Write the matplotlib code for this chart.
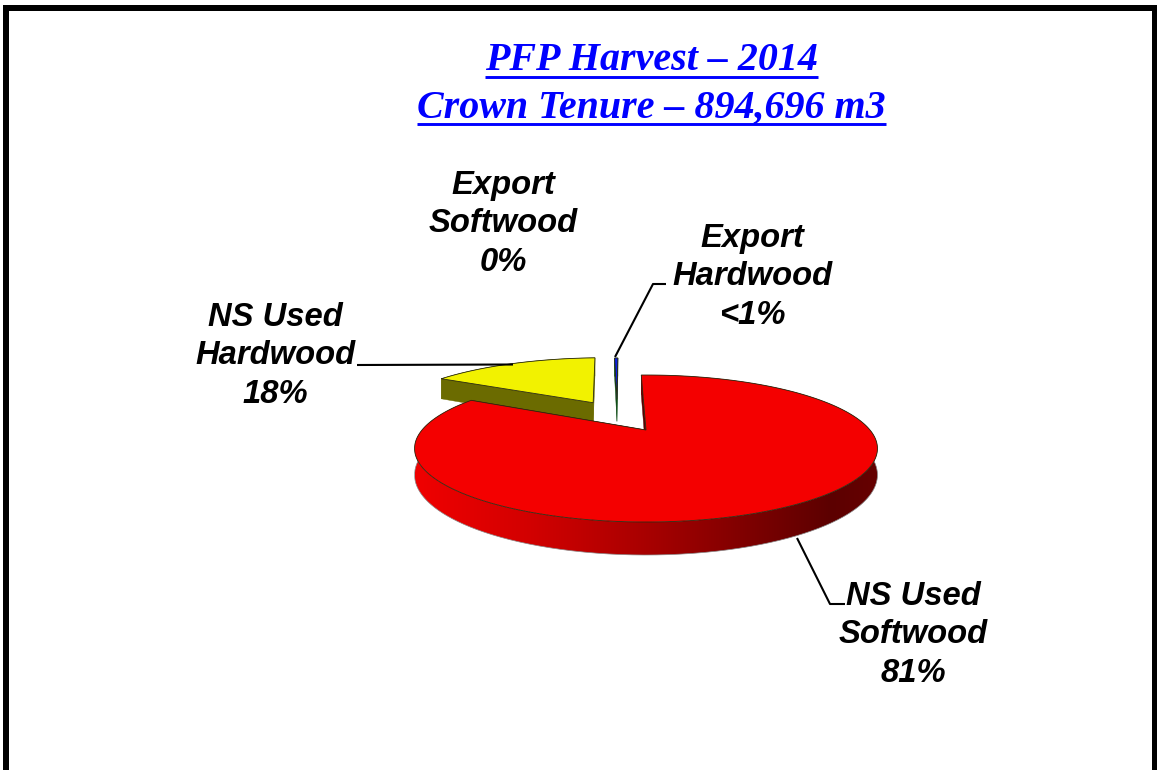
import numpy as np
import matplotlib
matplotlib.use("Agg")
import matplotlib.pyplot as plt
from matplotlib.colors import LinearSegmentedColormap
from matplotlib.patches import Polygon, Rectangle

title_lines = ["PFP Harvest – 2014", "Crown Tenure – 894,696 m3"]
slice_names = ["NS Used Softwood", "NS Used Hardwood", "Export Softwood", "Export Hardwood"]
slice_values = [81.0, 18.0, 0.0, 0.5]
slice_labels = [["NS Used", "Softwood", "81%"], ["NS Used", "Hardwood", "18%"],
                ["Export", "Softwood", "0%"], ["Export", "Hardwood", "<1%"]]

W, H = 1157, 770
CX, CY, A, B, K, DZ = 646.0, 430.0, 224.0, 68.84, 0.2517, 24.7
ROT, FORESHORTEN = 2.2, 0.69
EXPLODE = [(0, 0), (-0.262, 0.44), (0, 0), (-0.146, 0.50)]
RADIUS = [1.0, 0.985, 1.0, 0.92]
TOP = ["#f40000", "#f2f200", "#00ff00", "#0a1fe0"]
WALL = [None, "#6b6b00", "#006000", "#0b4a12"]
LABEL_X = [913, 275, 503, 752]
LABEL_BASE = [605, 326, 194, 247]
LINE_GAP = 38.3
LEADERS = {1: ((357, 365), (513, 364.5)), 3: ((615, 357), (653, 284), (666, 284)),
           0: ((797, 538), (830, 604), (845, 604))}
rim_cmap = LinearSegmentedColormap.from_list(
    "rim", [(0, "#f00000"), (0.25, "#d20000"), (0.5, "#a80000"), (0.75, "#780000"),
            (0.9, "#5c0000"), (1, "#660000")])


def project(x, y, z=0.0):
    w = 1 + K * np.asarray(y)
    return CX + A * np.asarray(x) / w, CY - B * np.asarray(y) / w + DZ * z / w


def rim_xy(theta_deg):
    t = np.radians(theta_deg)
    phi = np.arctan2(FORESHORTEN * np.sin(t), np.cos(t))
    return -np.sin(phi), np.cos(phi)


fig = plt.figure(figsize=(W / 100, H / 100), dpi=100, facecolor="white")
ax = fig.add_axes([0, 0, 1, 1])
ax.axis("off")

# Frame (open at the bottom)
for r in [(3, 5, 1154, 6), (3, 5, 6, 765), (1152, 5, 5, 765)]:
    ax.add_patch(Rectangle((r[0], r[1]), r[2], r[3], fc="black", ec="none", zorder=1))

sweeps = np.array(slice_values) / np.sum(slice_values) * 360
ends = ROT - np.cumsum(sweeps)
starts = np.r_[ROT, ends[:-1]]


def draw_slice(i, z0):
    if sweeps[i] <= 0:
        return
    th = np.linspace(starts[i], ends[i], max(4, int(sweeps[i] * 3)))
    ux, uy = rim_xy(th)
    ex, ey = EXPLODE[i]
    rx, ry = ex + RADIUS[i] * ux, ey + RADIUS[i] * uy
    X0, Y0 = project(rx, ry)
    X1, Y1 = project(rx, ry, 1.0)
    band = np.c_[np.r_[X0, X1[::-1]], np.r_[Y0, Y1[::-1]]]
    if WALL[i] is None:
        # shaded outer wall: horizontal gradient clipped to the rim band
        grad = np.linspace(0, 1, 256).reshape(1, -1)
        im = ax.imshow(grad, cmap=rim_cmap, vmin=0, vmax=1, aspect="auto",
                       extent=(X0.min(), X0.max(), Y1.max(), Y0.min()),
                       zorder=z0, interpolation="bilinear")
        clip = Polygon(band, closed=True, transform=ax.transData)
        im.set_clip_path(clip)
        front = ry < 0.35
        ax.plot(X1[front], Y1[front], color="#8a8a8a", lw=0.5, zorder=z0 + 0.15)
    else:
        ax.add_patch(Polygon(band, closed=True, fc=WALL[i], ec=WALL[i], lw=0.3, zorder=z0))
    # radial walls
    for k in (0, -1):
        xs, ys = np.array([ex, rx[k]]), np.array([ey, ry[k]])
        Xa, Ya = project(xs, ys)
        Xb, Yb = project(xs, ys, 1.0)
        c = "#5a0000" if WALL[i] is None else WALL[i]
        ax.add_patch(Polygon(np.c_[np.r_[Xa, Xb[::-1]], np.r_[Ya, Yb[::-1]]], closed=True,
                             fc=c, ec=c, lw=0.3, zorder=z0 + 0.1))
    # top face
    X, Y = project(np.r_[ex, rx], np.r_[ey, ry])
    ax.add_patch(Polygon(np.c_[X, Y], closed=True, fc=TOP[i], ec="#2a2a10", lw=0.6,
                         joinstyle="miter", zorder=z0 + 0.2))


draw_slice(1, 2)
draw_slice(3, 3)
draw_slice(0, 4)

# Leaders
for pts in LEADERS.values():
    p = np.array(pts)
    ax.plot(p[:, 0], p[:, 1], color="black", lw=1.5, zorder=6, solid_capstyle="butt")

ax.set_xlim(0, W)
ax.set_ylim(H, 0)

# Labels
for i, lines in enumerate(slice_labels):
    for n, s in enumerate(lines):
        ax.text(LABEL_X[i], LABEL_BASE[i] + n * LINE_GAP, s, ha="center", va="baseline",
                family="Liberation Sans", weight="bold", style="italic", fontsize=23.6,
                color="black", zorder=7)

# Title with underline
fig.canvas.draw()
rend = fig.canvas.get_renderer()
for s, base in zip(title_lines, [70, 117.7]):
    t = ax.text(651.5, base, s, ha="center", va="baseline", family="Liberation Serif",
                weight="bold", style="italic", fontsize=28.85, color="#0000ff", zorder=7)
    bb = t.get_window_extent(rend)
    ax.plot([bb.x0, bb.x1], [base + 6.6, base + 6.6], color="#0000ff", lw=2.1, zorder=7,
            solid_capstyle="butt")

fig.savefig("out.png", dpi=100, facecolor="white")
